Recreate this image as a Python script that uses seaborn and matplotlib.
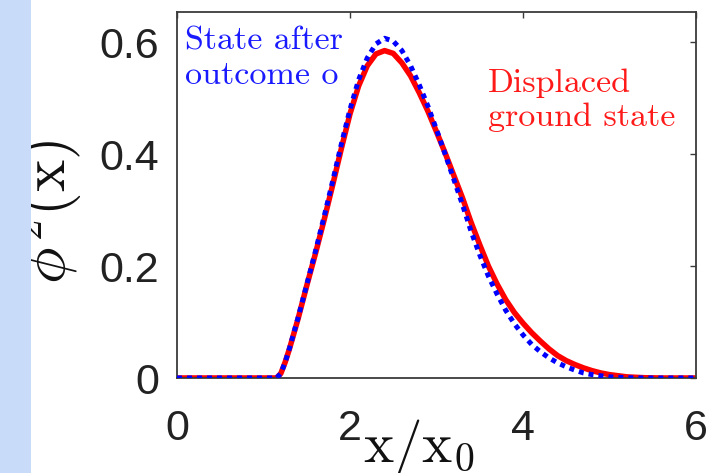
import matplotlib
matplotlib.use("Agg")
import matplotlib.pyplot as plt
import seaborn as sns
import pandas as pd
from matplotlib.patches import Rectangle

# Position grid (in units of x0)
x_pos = [0.0, 0.5, 1.0, 1.15, 1.2, 1.25, 1.3, 1.4, 1.5, 1.6, 1.7, 1.8, 1.9,
         2.0, 2.1, 2.2, 2.3, 2.4, 2.5, 2.6, 2.7, 2.8, 2.9, 3.0, 3.1, 3.2,
         3.3, 3.4, 3.5, 3.6, 3.7, 3.8, 3.9, 4.0, 4.1, 4.2, 4.3, 4.4, 4.5,
         4.6, 4.7, 4.8, 4.9, 5.0, 5.2, 5.4, 5.6, 6.0]

# Probability density of the displaced ground state
displaced_ground = [0.0, 0.0, 0.0, 0.0, 0.008, 0.028, 0.052, 0.106, 0.165,
                    0.222, 0.282, 0.345, 0.410, 0.472, 0.522, 0.558, 0.579,
                    0.585, 0.580, 0.563, 0.540, 0.510, 0.477, 0.440, 0.402,
                    0.362, 0.322, 0.278, 0.238, 0.200, 0.168, 0.140, 0.117,
                    0.098, 0.081, 0.066, 0.052, 0.040, 0.031, 0.024, 0.018,
                    0.013, 0.009, 0.006, 0.002, 0.0005, 0.0, 0.0]

# Probability density of the state after outcome o
after_outcome = [0.0, 0.0, 0.0, 0.0, 0.008, 0.028, 0.053, 0.108, 0.167,
                 0.226, 0.288, 0.352, 0.418, 0.480, 0.533, 0.572, 0.597,
                 0.607, 0.602, 0.585, 0.558, 0.524, 0.486, 0.444, 0.400,
                 0.355, 0.310, 0.262, 0.220, 0.182, 0.150, 0.121, 0.097,
                 0.077, 0.060, 0.047, 0.036, 0.027, 0.020, 0.014, 0.009,
                 0.006, 0.004, 0.002, 0.0005, 0.0, 0.0, 0.0]

x_ticks = [0, 2, 4, 6]
y_ticks = [0, 0.2, 0.4, 0.6]
y_tick_labels = ["0", "0.2", "0.4", "0.6"]

df = pd.DataFrame({"x": x_pos, "ground": displaced_ground, "after": after_outcome})

sns.set_style("white")
plt.rcParams["mathtext.fontset"] = "cm"
plt.rcParams["font.family"] = ["Liberation Sans", "DejaVu Sans"]

fig = plt.figure(figsize=(7.07, 4.73), dpi=100)
fig.patch.set_facecolor("white")
fig.patches.append(Rectangle((0, 0), 31 / 707, 1, transform=fig.transFigure,
                             facecolor="#c8dbf9", edgecolor="none", zorder=0))

ax = fig.add_axes([177 / 707, 1 - 378 / 473, (696 - 177) / 707, (378 - 12) / 473])

sns.lineplot(data=df, x="x", y="ground", color="#ff0000", linewidth=4.0,
             ax=ax, zorder=2)
sns.lineplot(data=df, x="x", y="after", color="#0000ff", linewidth=3.6,
             linestyle=(0, (1, 1)), ax=ax, zorder=3)

ax.set_xlim(0, 6)
ax.set_ylim(0, 0.654)
ax.set_xticks(x_ticks)
ax.set_xticklabels([str(t) for t in x_ticks])
ax.set_yticks(y_ticks)
ax.set_yticklabels(y_tick_labels)

for s in ax.spines.values():
    s.set_visible(True)
    s.set_color("#3a3a3a")
    s.set_linewidth(1.3)

ax.tick_params(axis="both", direction="in", length=4, width=1.0,
               color="#3a3a3a", labelsize=31, labelcolor="#222222",
               top=True, right=True)
ax.tick_params(axis="x", pad=22)
ax.tick_params(axis="y", pad=13)

ax.set_xlabel(r"$\mathrm{x}/\mathrm{x}_0$", fontsize=41, color="#111111",
              va="top", ha="center")
ax.xaxis.set_label_coords(419 / 707, 1 - 417 / 473, transform=fig.transFigure)

ax.set_ylabel(r"$\phi^2(\mathrm{x})$", fontsize=44, color="#111111",
              va="center", ha="center")
ax.yaxis.set_label_coords(48 / 707, 1 - 212 / 473, transform=fig.transFigure)

ax.text(185 / 707, 1 - 26 / 473, "State after\noutcome o",
        transform=fig.transFigure, family="cmr10", fontsize=24.5,
        color="#1a1aff", ha="left", va="top", linespacing=1.25)
ax.text(488 / 707, 1 - 68 / 473, "Displaced\nground state",
        transform=fig.transFigure, family="cmr10", fontsize=24.5,
        color="#ff1a1a", ha="left", va="top", linespacing=1.22)

fig.savefig("out.png", dpi=100)
